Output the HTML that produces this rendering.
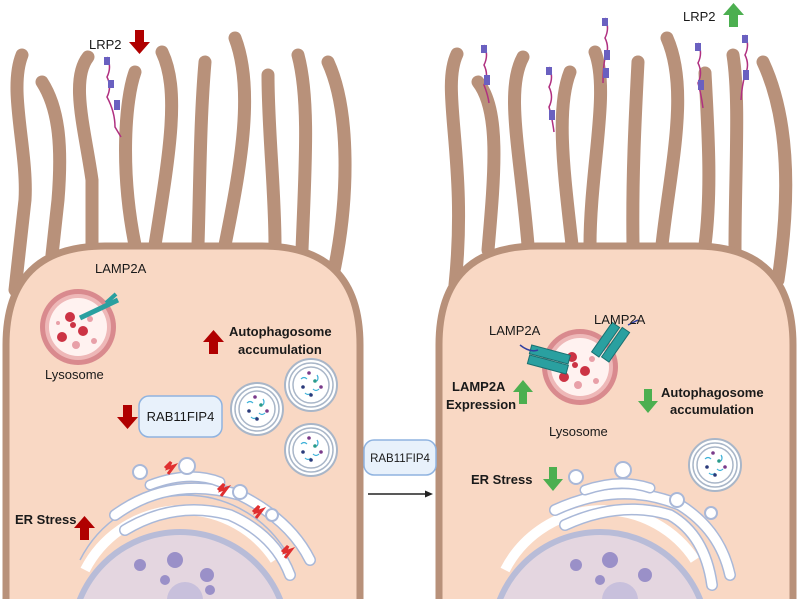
<!DOCTYPE html>
<html><head><meta charset="utf-8"><style>
html,body{margin:0;padding:0;background:#fff;width:800px;height:599px;overflow:hidden}
svg{display:block}
text{font-family:"Liberation Sans",sans-serif;fill:#1a1a1a}
.b{font-weight:bold}
</style></head><body>
<svg width="800" height="599" viewBox="0 0 800 599" xmlns="http://www.w3.org/2000/svg" style="overflow:hidden">
<defs>
<g id="auto">
<circle r="26" fill="#fff" stroke="#a9b6c8" stroke-width="2"/>
<circle r="22" fill="none" stroke="#a9b6c8" stroke-width="1.5"/>
<circle r="18" fill="#fff" stroke="#a9b6c8" stroke-width="1.5"/>
<path d="M-10,-6 q3,-3 6,0 M2,4 q3,3 6,0 M-6,8 q3,3 6,0 M6,-10 q2,3 0,6" stroke="#3ab0d8" stroke-width="1.2" fill="none"/>
<circle cx="-8" cy="2" r="1.8" fill="#2a3a7a"/><circle cx="4" cy="-4" r="1.8" fill="#2a9a8a"/>
<circle cx="10" cy="2" r="1.8" fill="#7a3a8a"/><circle cx="0" cy="10" r="1.8" fill="#2a3a7a"/>
<circle cx="-2" cy="-12" r="1.8" fill="#7a3a8a"/>
</g>
<g id="lyso">
<circle r="38" fill="#d98a8e"/>
<circle r="33" fill="#eeb8b8"/>
<circle r="29" fill="#fff2f0"/>
<circle cx="-8" cy="-10" r="5" fill="#cc3344"/><circle cx="5" cy="4" r="5" fill="#cc3344"/>
<circle cx="-16" cy="10" r="5" fill="#cc3344"/><circle cx="-5" cy="-2" r="3" fill="#cc3344"/>
<circle cx="12" cy="-8" r="3" fill="#e8a0a8"/><circle cx="-2" cy="18" r="4" fill="#e8a0a8"/>
<circle cx="16" cy="14" r="3" fill="#e8a0a8"/><circle cx="-20" cy="-4" r="2" fill="#e8a0a8"/>
</g>
</defs>

<g stroke="#b8917a" stroke-width="13" fill="none" stroke-linecap="round">
<path d="M22,55 C8,90 28,150 25,200 L15,290"/>
<path d="M42,82 C60,110 62,150 58,200 L52,255"/>
<path d="M88,57 C70,80 85,130 92,180 L92,245"/>
<path d="M135,72 C125,100 120,170 135,245"/>
<path d="M162,52 C180,90 170,150 155,245"/>
<path d="M205,62 C200,120 200,180 198,245"/>
<path d="M235,38 C255,90 240,170 225,245"/>
<path d="M268,75 C268,130 275,190 275,245"/>
<path d="M298,55 C310,100 305,170 302,250"/>
<path d="M328,62 C350,110 350,200 332,280"/>
</g>
<g stroke="#b8917a" stroke-width="13" fill="none" stroke-linecap="round">
<path d="M457,54 C440,90 468,160 455,285"/>
<path d="M478,82 C500,110 495,170 488,250"/>
<path d="M523,57 C505,90 520,150 528,245"/>
<path d="M570,72 C555,110 565,180 572,245"/>
<path d="M595,52 C610,90 590,170 590,245"/>
<path d="M638,62 C635,120 632,180 633,245"/>
<path d="M667,38 C690,90 670,170 662,245"/>
<path d="M705,73 C708,130 712,190 705,245"/>
<path d="M733,55 C740,100 735,170 735,250"/>
<path d="M763,62 C790,120 790,200 778,280"/>
</g>

<path d="M6,599 L6,345 Q6,246 105,246 L262,246 Q360,246 360,345 L360,599" fill="#f9d8c4" stroke="#b8917a" stroke-width="7"/>
<path d="M439,599 L439,345 Q439,246 538,246 L695,246 Q793,246 793,345 L793,599" fill="#f9d8c4" stroke="#b8917a" stroke-width="7"/>

<g stroke="#7a50b0" stroke-width="1.5" fill="none">
<path d="M107,57 q5,10 0,20 q5,10 0,20 q8,15 8,30 l6,10" stroke="#b03080"/>
<path d="M484,45 q5,10 0,20 q5,10 0,20 q4,10 5,18" stroke="#b03080"/>
<path d="M549,67 q5,10 0,20 q5,10 0,20 q3,10 5,25" stroke="#b03080"/>
<path d="M605,18 q5,10 0,20 q5,10 0,20 q-2,10 -2,25" stroke="#b03080"/>
<path d="M698,43 q5,10 0,20 q5,10 0,20 q3,10 5,25" stroke="#b03080"/>
<path d="M745,35 q5,10 0,20 q5,10 0,20 q-3,10 -4,25" stroke="#b03080"/>
</g>
<g fill="#6a60c0">
<rect x="104" y="57" width="6" height="8"/><rect x="108" y="80" width="6" height="8"/><rect x="114" y="100" width="6" height="10"/>
<rect x="481" y="45" width="6" height="8"/><rect x="484" y="75" width="6" height="10"/>
<rect x="546" y="67" width="6" height="8"/><rect x="549" y="110" width="6" height="10"/>
<rect x="602" y="18" width="6" height="8"/><rect x="604" y="50" width="6" height="10"/><rect x="603" y="68" width="6" height="10"/>
<rect x="695" y="43" width="6" height="8"/><rect x="698" y="80" width="6" height="10"/>
<rect x="742" y="35" width="6" height="8"/><rect x="743" y="70" width="6" height="10"/>
</g>

<text x="89" y="49" font-size="13">LRP2</text>
<path d="M135,30 h9 v12 h6 l-10.5,12 l-10.5,-12 h6z" fill="#b00000"/>
<text x="683" y="21" font-size="13">LRP2</text>
<path d="M729,27 h9 v-12 h6 l-10.5,-12 l-10.5,12 h6z" fill="#4caf50"/>

<use href="#lyso" x="78" y="327"/>
<path d="M80,318 L118,300" stroke="#2aa0a0" stroke-width="5"/><path d="M106,303 L116,294" stroke="#2aa0a0" stroke-width="4"/>
<text x="95" y="273" font-size="13">LAMP2A</text>
<text x="45" y="379" font-size="13">Lysosome</text>

<path d="M209,354 h9 v-12 h6 l-10.5,-12 l-10.5,12 h6z" fill="#b00000"/>
<text x="229" y="336" font-size="13" class="b">Autophagosome</text>
<text x="238" y="354" font-size="13" class="b">accumulation</text>

<path d="M123,405 h9 v12 h6 l-10.5,12 l-10.5,-12 h6z" fill="#b00000"/>
<rect x="139" y="396" width="83" height="41" rx="10" fill="#e8f1fb" stroke="#8fb3e0" stroke-width="1.5"/>
<text x="180.5" y="421" font-size="13" text-anchor="middle">RAB11FIP4</text>

<use href="#auto" x="257" y="409"/>
<use href="#auto" x="311" y="385"/>
<use href="#auto" x="311" y="450"/>

<g>
<circle cx="180" cy="640" r="108" fill="#e4d6e0" stroke="#b8bcd8" stroke-width="6"/>
<path d="M85,570 A110,110 0 0 1 275,560" fill="none" stroke="#fff" stroke-width="10"/>
<path d="M80,560 A118,118 0 0 1 285,550" fill="none" stroke="#a9b8d8" stroke-width="1.5"/>
<path d="M115,515 Q170,475 240,495 Q290,520 310,560" fill="none" stroke="#a9b8d8" stroke-width="12" stroke-linecap="round"/>
<path d="M115,515 Q170,475 240,495 Q290,520 310,560" fill="none" stroke="#fff" stroke-width="9" stroke-linecap="round"/>
<path d="M125,530 Q175,500 230,515 Q275,535 290,575" fill="none" stroke="#a9b8d8" stroke-width="12" stroke-linecap="round"/>
<path d="M125,530 Q175,500 230,515 Q275,535 290,575" fill="none" stroke="#fff" stroke-width="9" stroke-linecap="round"/>
<path d="M150,485 Q190,470 220,482" fill="none" stroke="#a9b8d8" stroke-width="11" stroke-linecap="round"/>
<path d="M150,485 Q190,470 220,482" fill="none" stroke="#fff" stroke-width="8" stroke-linecap="round"/>
<circle cx="140" cy="472" r="7" fill="#fff" stroke="#a9b8d8" stroke-width="2"/>
<circle cx="187" cy="466" r="8" fill="#fff" stroke="#a9b8d8" stroke-width="2"/>
<circle cx="240" cy="492" r="7" fill="#fff" stroke="#a9b8d8" stroke-width="2"/>
<circle cx="272" cy="515" r="6" fill="#fff" stroke="#a9b8d8" stroke-width="2"/>
<circle cx="140" cy="565" r="6" fill="#9a90c8"/><circle cx="175" cy="560" r="8" fill="#9a90c8"/>
<circle cx="165" cy="580" r="5" fill="#9a90c8"/><circle cx="207" cy="575" r="7" fill="#9a90c8"/>
<circle cx="210" cy="590" r="5" fill="#9a90c8"/><circle cx="185" cy="600" r="18" fill="#c8c0dc"/>
<path d="M165,468 l6,-6 l-3,6 l6,-2 l-6,8" stroke="#e03030" stroke-width="3" fill="none"/>
<path d="M218,490 l6,-6 l-3,6 l6,-2 l-6,8" stroke="#e03030" stroke-width="3" fill="none"/>
<path d="M253,512 l6,-6 l-3,6 l6,-2 l-6,8" stroke="#e03030" stroke-width="3" fill="none"/>
<path d="M282,552 l6,-6 l-3,6 l6,-2 l-6,8" stroke="#e03030" stroke-width="3" fill="none"/>
</g>
<text x="15" y="524" font-size="13" class="b">ER Stress</text>
<path d="M80,540 h9 v-12 h6 l-10.5,-12 l-10.5,12 h6z" fill="#b00000"/>

<rect x="364" y="440" width="72" height="35" rx="10" fill="#e8f1fb" stroke="#8fb3e0" stroke-width="1.5"/>
<text x="400" y="462" font-size="11.5" text-anchor="middle">RAB11FIP4</text>
<line x1="368" y1="494" x2="428" y2="494" stroke="#222" stroke-width="1.5"/>
<path d="M433,494 l-8,-3.5 v7z" fill="#222"/>

<use href="#lyso" x="580" y="367"/>
<g fill="#2aa0a0" stroke="#1a7070" stroke-width="1">
<rect x="530" y="350" width="40" height="9" transform="rotate(15 550 354)"/>
<rect x="528" y="360" width="40" height="9" transform="rotate(15 548 364)"/>
<rect x="588" y="335" width="36" height="9" transform="rotate(-55 606 340)"/>
<rect x="598" y="340" width="36" height="9" transform="rotate(-55 616 345)"/>
</g>
<path d="M520,345 q10,8 18,5 M628,325 q6,-3 10,-5" stroke="#3040a0" stroke-width="1.5" fill="none"/>
<text x="489" y="335" font-size="13">LAMP2A</text>
<text x="594" y="324" font-size="13">LAMP2A</text>
<text x="549" y="436" font-size="13">Lysosome</text>

<text x="452" y="391" font-size="13" class="b">LAMP2A</text>
<text x="446" y="409" font-size="13" class="b">Expression</text>
<path d="M519,404 h8 v-12 h6 l-10,-12 l-10,12 h6z" fill="#4caf50"/>

<path d="M644,389 h8 v12 h6 l-10,12 l-10,-12 h6z" fill="#4caf50"/>
<text x="661" y="397" font-size="13" class="b">Autophagosome</text>
<text x="670" y="414" font-size="13" class="b">accumulation</text>

<use href="#auto" x="715" y="465"/>

<text x="471" y="484" font-size="13" class="b">ER Stress</text>
<path d="M549,467 h8 v12 h6 l-10,12 l-10,-12 h6z" fill="#4caf50"/>

<g>
<circle cx="600" cy="640" r="108" fill="#e4d6e0" stroke="#b8bcd8" stroke-width="6"/>
<path d="M505,570 A110,110 0 0 1 695,560" fill="none" stroke="#fff" stroke-width="10"/>
<path d="M555,510 Q620,480 680,505 Q720,530 730,575" fill="none" stroke="#a9b8d8" stroke-width="12" stroke-linecap="round"/>
<path d="M555,510 Q620,480 680,505 Q720,530 730,575" fill="none" stroke="#fff" stroke-width="9" stroke-linecap="round"/>
<path d="M565,525 Q620,500 670,515 Q705,535 712,585" fill="none" stroke="#a9b8d8" stroke-width="12" stroke-linecap="round"/>
<path d="M565,525 Q620,500 670,515 Q705,535 712,585" fill="none" stroke="#fff" stroke-width="9" stroke-linecap="round"/>
<path d="M585,490 Q620,478 650,488" fill="none" stroke="#a9b8d8" stroke-width="11" stroke-linecap="round"/>
<path d="M585,490 Q620,478 650,488" fill="none" stroke="#fff" stroke-width="8" stroke-linecap="round"/>
<circle cx="576" cy="477" r="7" fill="#fff" stroke="#a9b8d8" stroke-width="2"/>
<circle cx="623" cy="470" r="8" fill="#fff" stroke="#a9b8d8" stroke-width="2"/>
<circle cx="677" cy="500" r="7" fill="#fff" stroke="#a9b8d8" stroke-width="2"/>
<circle cx="711" cy="513" r="6" fill="#fff" stroke="#a9b8d8" stroke-width="2"/>
<circle cx="576" cy="565" r="6" fill="#9a90c8"/><circle cx="610" cy="560" r="8" fill="#9a90c8"/>
<circle cx="645" cy="575" r="7" fill="#9a90c8"/><circle cx="600" cy="580" r="5" fill="#9a90c8"/>
<circle cx="620" cy="600" r="18" fill="#c8c0dc"/>
</g>
</svg>
</body></html>
